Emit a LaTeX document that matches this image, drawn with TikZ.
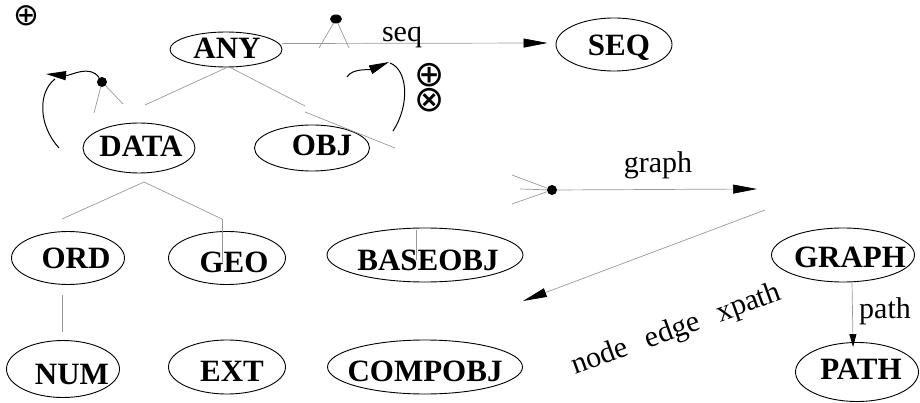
\documentclass[tikz,border=0pt]{standalone}
\usepackage{fontspec}
\setmainfont{Liberation Serif}
\newfontfamily\symfont{DejaVu Sans}
\usetikzlibrary{shapes.geometric,arrows.meta}
% label inside a class ellipse: #1 = twice the horizontal offset, #2 = raise, #3 = text
\newcommand\elabel[3]{\makebox[0pt]{\hspace*{#1}\raisebox{#2}[0pt][0pt]{#3}}}

\begin{document}
\begin{tikzpicture}[x=1pt,y=-1pt,
  cls/.style={ellipse, draw=black, line width=0.9pt, inner sep=0pt,
    font=\bfseries\fontsize{31}{31}\selectfont},
  link/.style={draw=black!40, line width=0.7pt},
  bighead/.style={-{Triangle[length=24pt,width=9pt,black]}},
  smallhead/.style={-{Triangle[length=13pt,width=7pt,black]}},
  curveline/.style={draw=black, line width=1pt},
  curvehead/.style={-{Triangle[length=20pt,width=9pt]}},
  lab/.style={font=\fontsize{30}{30}\selectfont, inner sep=0pt, anchor=base},
  sym/.style={inner sep=0pt, font=\symfont\fontsize{36}{36}\selectfont},
  blob/.style={ellipse, fill=black, inner sep=0pt, minimum width=10pt, minimum height=10pt}
]
\useasboundingbox (0,0) rectangle (920,403);

% class hierarchy
\node[cls, minimum width=112pt, minimum height=35pt] (ANY) at (226,49.5) {\elabel{2pt}{-8.75pt}{ANY}};
\node[cls, minimum width=116pt, minimum height=53pt] (SEQ) at (614,44.5) {\elabel{10pt}{-10.75pt}{SEQ}};
\node[cls, minimum width=112pt, minimum height=50pt] (DATA) at (139,148) {\elabel{4pt}{-8.25pt}{DATA}};
\node[cls, minimum width=115pt, minimum height=46pt] (OBJ) at (312,148) {\elabel{20pt}{-7.25pt}{OBJ}};
\node[cls, minimum width=113pt, minimum height=53pt] (ORD) at (68,258) {\elabel{16pt}{-10.75pt}{ORD}};
\node[cls, minimum width=117pt, minimum height=53pt] (GEO) at (227,258) {\elabel{14pt}{-14.25pt}{GEO}};
\node[cls, minimum width=196pt, minimum height=54pt] (BASEOBJ) at (425,255) {\elabel{6pt}{-15.25pt}{BASEOBJ}};
\node[cls, minimum width=113pt, minimum height=57pt] (NUM) at (63,369) {\elabel{18pt}{-15.25pt}{NUM}};
\node[cls, minimum width=117pt, minimum height=54pt] (EXT) at (227,367) {\elabel{10pt}{-14.25pt}{EXT}};
\node[cls, minimum width=195pt, minimum height=54pt] (COMPOBJ) at (425,367) {\elabel{0pt}{-14.75pt}{COMPOBJ}};
\node[cls, minimum width=143pt, minimum height=54pt] (GRAPH) at (843,255) {\elabel{14pt}{-12pt}{GRAPH}};
\node[cls, minimum width=123pt, minimum height=59pt] (PATH) at (857,372) {\elabel{8pt}{-7.25pt}{PATH}};

% junction blobs
\node[blob, minimum width=12pt, minimum height=9pt] (jseq) at (336,19) {};
\node[blob] (jdata) at (102,82) {};
\node[blob] (jgraph) at (552,190) {};

% free ends of the connectors
\coordinate (anyL) at (145,105);
\coordinate (anyR) at (305,106);
\coordinate (objA) at (305,112);
\coordinate (objB) at (395,148);
\coordinate (seqL) at (319,48);
\coordinate (seqR) at (349,48);
\coordinate (dataL) at (94,113);
\coordinate (dataR) at (123,104);
\coordinate (dtop) at (144,182);
\coordinate (ordT) at (62,219);
\coordinate (geoT) at (222,219);
\coordinate (geoB) at (222,262);
\coordinate (baseT) at (416,230);
\coordinate (baseB) at (416,260);
\coordinate (ordB) at (62,295);
\coordinate (numT) at (62,332);
\coordinate (fkA) at (512,175);
\coordinate (fkB) at (520,189);
\coordinate (fkC) at (512,204);
\coordinate (gEnd) at (757,189);
\coordinate (dgA) at (765,210);
\coordinate (dgB) at (523,301);
\coordinate (lcA) at (59,148);
\coordinate (lcB) at (55,79);
\coordinate (ltip) at (46,74);
\coordinate (rcA) at (347,77);
\coordinate (rtip) at (389,62);
\coordinate (rcB) at (393,131);
\coordinate (rcC) at (390,63);

% grey connectors
\draw[link] ([xshift=1pt]ANY.south) -- (anyL);
\draw[link] ([xshift=4pt]ANY.south) -- (anyR);
\draw[link] (objA) -- (objB);
\draw[link, bighead, shorten >=8pt] ([yshift=6pt]ANY.east) -- ([yshift=1.5pt]SEQ.west);
\draw[link] (jseq) -- (seqL);
\draw[link] (jseq) -- (seqR);
\draw[link] (jdata) -- (dataL);
\draw[link] (jdata) -- (dataR);
\draw[link] (dtop) -- (ordT);
\draw[link] (dtop) -- (geoT);
\draw[link] (geoT) -- (geoB);
\draw[link] (baseT) -- (baseB);
\draw[link] (ordB) -- (numT);
\draw[link] (fkA) -- (jgraph);
\draw[link] (fkB) -- (jgraph);
\draw[link] (fkC) -- (jgraph);
\draw[link, bighead] (jgraph) -- (gEnd);
\draw[link, bighead] (dgA) -- (dgB);
\draw[link, smallhead, shorten >=-5pt] ([xshift=9pt]GRAPH.south) -- ([xshift=-4pt]PATH.north);

% black turning arcs
\draw[curveline, curvehead] (jdata) .. controls (90,64) and (70,76) .. (ltip);
\draw[curveline] (lcA) .. controls (38,125) and (38,92) .. (lcB);
\draw[curveline, curvehead] (rcA) .. controls (352,68) and (370,70) .. (rtip);
\draw[curveline] (rcB) .. controls (410,105) and (408,70) .. (rcC);

% labels
\node[lab] (seqlab) at (402,42) {seq};
\node[lab] (graphlab) at (658,173) {graph};
\node[lab] (pathlab) at (885,318) {path};
\node[lab, rotate=20] (xlab) at (679,337) {node\hspace{12pt} edge\hspace{12pt} xpath};

% operator symbols
\node[sym, font=\symfont\fontsize{31}{31}\selectfont] (opA) at (26,16) {⊕};
\node[sym] (opB) at (430,75) {⊕};
\node[sym] (opC) at (430,100) {⊗};
\end{tikzpicture}
\end{document}
